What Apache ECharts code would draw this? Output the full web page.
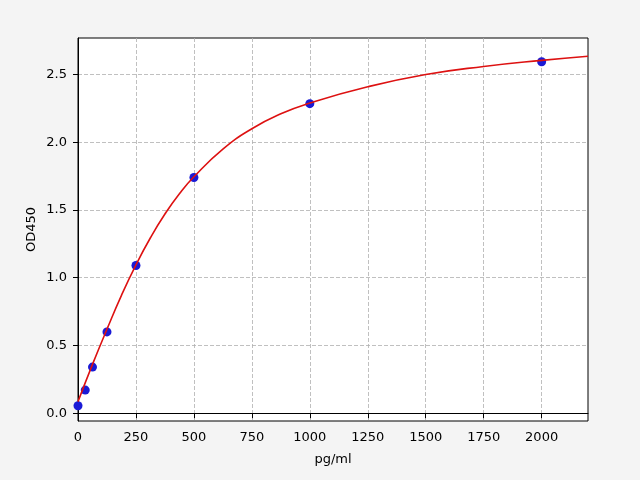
<!DOCTYPE html>
<html>
<head>
<meta charset="utf-8">
<script src="https://cdn.jsdelivr.net/npm/echarts@6/dist/echarts.min.js"></script>
<style>
html,body{margin:0;padding:0;background:#f4f4f4;}
#c{width:640px;height:480px;}
</style>
</head>
<body>
<div id="c"></div>
<script>
// Standard points (concentration pg/ml, OD450)
const stdX = [0, 31.25, 62.5, 125, 250, 500, 1000, 2000];
const stdY = [0.055, 0.17, 0.34, 0.60, 1.09, 1.74, 2.285, 2.595];
// Fitted curve
const curveX = [0, 62.5, 125, 187.5, 250, 312.5, 375, 437.5, 500, 625, 750, 875, 1000, 1250, 1500, 1750, 2000, 2200];
const curveY = [0.085, 0.36, 0.62, 0.87, 1.095, 1.295, 1.47, 1.62, 1.745, 1.95, 2.10, 2.21, 2.29, 2.41, 2.50, 2.56, 2.605, 2.635];
const xTicks = [0, 250, 500, 750, 1000, 1250, 1500, 1750, 2000];
const yTicks = [0.0, 0.5, 1.0, 1.5, 2.0, 2.5];

const chart = echarts.init(document.getElementById('c'));
const font = 'DejaVu Sans';
const gridLine = {show: true, lineStyle: {color: '#b0b0b0', type: [4, 2], width: 0.8}};
chart.setOption({
  backgroundColor: '#f4f4f4',
  animation: false,
  grid: {left: 78, right: 52, top: 38, bottom: 59, show: true, backgroundColor: '#ffffff', borderColor: '#000', borderWidth: 1},
  xAxis: {
    type: 'value', min: 0, max: 2200,
    name: 'pg/ml', nameLocation: 'middle', nameGap: 32,
    nameTextStyle: {fontFamily: font, fontSize: 13, color: '#000'},
    axisLine: {show: true, lineStyle: {color: '#000'}},
    axisTick: {show: true, length: 5, inside: false, customValues: xTicks, lineStyle: {color: '#000'}},
    axisLabel: {customValues: xTicks, fontFamily: font, fontSize: 13, color: '#000', margin: 10,
      formatter: v => String(v)},
    splitLine: gridLine
  },
  yAxis: {
    type: 'value', min: -0.058, max: 2.77,
    name: 'OD450', nameLocation: 'middle', nameGap: 40, nameRotate: 90, nameMoveOverlap: false,
    nameTextStyle: {fontFamily: font, fontSize: 13, color: '#000'},
    axisLine: {show: true, lineStyle: {color: '#000'}},
    axisTick: {show: true, length: 5, inside: false, customValues: yTicks, lineStyle: {color: '#000'}},
    axisLabel: {customValues: yTicks, fontFamily: font, fontSize: 13, color: '#000', margin: 11,
      formatter: v => v.toFixed(1)},
    splitLine: gridLine
  },
  series: [
    {type: 'scatter', data: stdX.map((x, i) => [x, stdY[i]]), symbolSize: 9,
      itemStyle: {color: '#1a1ad6', opacity: 1}, z: 2},
    {type: 'line', data: curveX.map((x, i) => [x, curveY[i]]), smooth: 0.5, showSymbol: false,
      lineStyle: {color: '#dd1111', width: 1.6}, z: 3}
  ]
});
</script>
</body>
</html>
